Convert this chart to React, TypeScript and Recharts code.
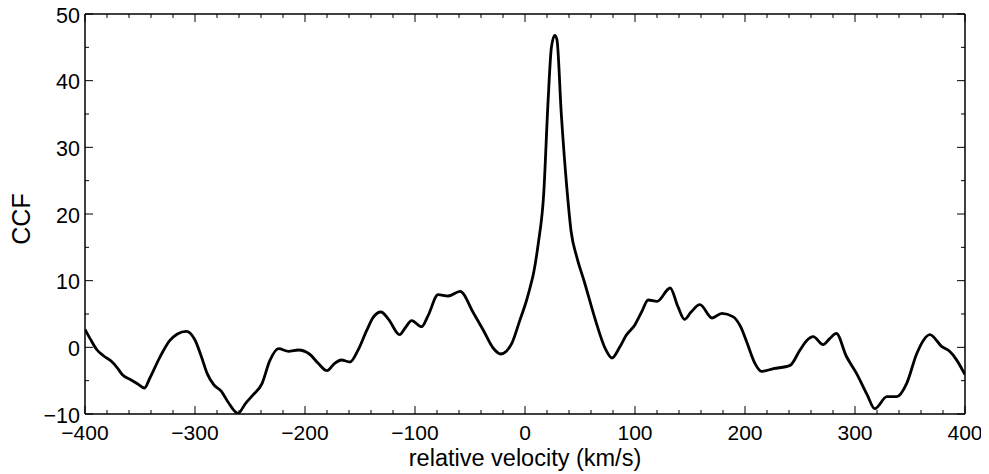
import { LineChart, Line, XAxis, YAxis } from 'recharts';

// velocity (km/s) and CCF
const velocity = [
  -400, -395, -389, -383, -376, -371, -366, -358, -352, -346, -341, -332, -323, -316, -308,
  -300, -294, -289, -283, -276, -270, -261, -254, -247, -239, -232, -224, -215, -206, -196,
  -188, -180, -173, -167, -159, -152, -144, -138, -131, -124, -114, -109, -103, -94, -88,
  -79, -70, -59, -47, -38, -29, -22, -12, -5, 1.5, 4.5, 8, 12, 17, 21, 24, 27, 29, 33, 38,
  42, 47, 54, 64, 73, 79, 86, 92, 100, 106, 112, 120, 132, 139, 145, 151, 159, 170, 179,
  189, 196, 202, 209, 215, 226, 241, 250, 256, 262, 271, 277, 283, 292, 301, 311, 318,
  329, 338, 347, 356, 362, 368, 379, 386, 392, 400,
];
const ccf = [
  2.7, 1.2, -0.4, -1.3, -2.1, -3.0, -4.1, -4.9, -5.5, -6.1, -4.6, -1.5, 1.0, 2.0, 2.4,
  1.1, -1.5, -3.9, -5.6, -6.6, -8.2, -9.9, -8.4, -7.1, -5.4, -2.0, -0.2, -0.6, -0.4, -1.0,
  -2.4, -3.5, -2.4, -1.9, -2.2, -0.5, 2.5, 4.5, 5.3, 4.2, 1.9, 2.9, 4.0, 3.1, 4.8,
  7.9, 7.7, 8.4, 5.2, 2.6, -0.1, -1.0, 0.6, 3.9, 7.1, 8.9, 11.3, 15.5, 23, 37, 45, 46.8, 46.2, 35, 24,
  17.3, 13.6, 9.8, 4.1, -0.2, -1.6, 0.0, 1.8, 3.4, 5.3, 7.1, 6.9, 8.9, 6.1, 4.2, 5.3, 6.4, 4.4, 5.1,
  4.6, 3.1, 0.6, -2.4, -3.6, -3.2, -2.7, -0.4, 1.0, 1.6, 0.4, 1.3, 2.1, -1.3, -3.8, -7.1, -9.2,
  -7.4, -7.4, -5.4, -1.0, 1.0, 1.9, 0.1, -0.6, -1.8, -4.1,
];

const xTicks = Array.from({ length: 41 }, (_, i) => -400 + i * 20);
const yTicks = Array.from({ length: 13 }, (_, i) => -10 + i * 5);

const data = velocity.map((v, i) => ({ v, ccf: ccf[i] }));

const font = '"Liberation Sans", Arial, Helvetica, sans-serif';
const fmt = (n: number) => String(n).replace('-', '\u2212');

const BottomTick = (props: any) => {
  const { x, y, payload } = props;
  const val = Math.round(payload.value);
  const major = val % 100 === 0;
  return (
    <g>
      <line x1={x} y1={y} x2={x} y2={y - (major ? 8 : 4)} stroke="#000" strokeWidth={1} />
      {major && (
        <text x={x} y={y + 26} textAnchor="middle" fontSize={21} fontFamily={font} fill="#000">
          {fmt(val)}
        </text>
      )}
    </g>
  );
};

const TopTick = (props: any) => {
  const { x, y, payload } = props;
  const major = Math.round(payload.value) % 100 === 0;
  return <line x1={x} y1={y} x2={x} y2={y + (major ? 8 : 4)} stroke="#000" strokeWidth={1} />;
};

const LeftTick = (props: any) => {
  const { x, y, payload } = props;
  const val = Math.round(payload.value);
  const major = val % 10 === 0;
  return (
    <g>
      <line x1={x} y1={y} x2={x + (major ? 8 : 4)} y2={y} stroke="#000" strokeWidth={1} />
      {major && (
        <text x={x - 5} y={y + 8.5} textAnchor="end" fontSize={21.5} fontFamily={font} fill="#000">
          {fmt(val)}
        </text>
      )}
    </g>
  );
};

const RightTick = (props: any) => {
  const { x, y, payload } = props;
  const major = Math.round(payload.value) % 10 === 0;
  return <line x1={x} y1={y} x2={x - (major ? 8 : 4)} y2={y} stroke="#000" strokeWidth={1} />;
};

const axisLine = { stroke: '#000', strokeWidth: 1.5 };

export default function App() {
  return (
    <LineChart width={981} height={466} data={data} margin={{ top: 5, right: 23, left: 0, bottom: 0 }}>
      <XAxis
        xAxisId="b"
        dataKey="v"
        type="number"
        domain={[-400, 400]}
        ticks={xTicks}
        interval={0}
        height={60}
        tickSize={0}
        tickMargin={0}
        tickLine={false}
        axisLine={axisLine}
        tick={<BottomTick />}
        allowDataOverflow
        label={{
          value: 'relative velocity (km/s)',
          position: 'insideBottom',
          offset: 8,
          fontSize: 23.5,
          fontFamily: font,
          fill: '#000',
        }}
      />
      <XAxis
        xAxisId="t"
        dataKey="v"
        type="number"
        orientation="top"
        domain={[-400, 400]}
        ticks={xTicks}
        interval={0}
        height={1}
        tickSize={0}
        tickMargin={0}
        tickLine={false}
        axisLine={axisLine}
        tick={<TopTick />}
        allowDataOverflow
      />
      <YAxis
        yAxisId="l"
        type="number"
        domain={[-10, 50]}
        ticks={yTicks}
        interval={0}
        width={77}
        tickSize={0}
        tickMargin={0}
        tickLine={false}
        axisLine={axisLine}
        tick={<LeftTick />}
        allowDataOverflow
        label={{
          content: ({ viewBox }: any) => {
            const cx = 13;
            const cy = viewBox.y + viewBox.height / 2 + 5;
            return (
              <text
                x={cx}
                y={cy}
                transform={`rotate(-90 ${cx} ${cy})`}
                textAnchor="middle"
                dominantBaseline="central"
                fontSize={25}
                fontFamily={font}
                fill="#000"
              >
                CCF
              </text>
            );
          },
        }}
      />
      <YAxis
        yAxisId="r"
        type="number"
        orientation="right"
        domain={[-10, 50]}
        ticks={yTicks}
        interval={0}
        width={1}
        tickSize={0}
        tickMargin={0}
        tickLine={false}
        axisLine={axisLine}
        tick={<RightTick />}
        allowDataOverflow
      />
      {/* invisible copy so the top/right frame axes get a scale */}
      <Line
        xAxisId="t"
        yAxisId="r"
        dataKey="ccf"
        type="monotone"
        stroke="none"
        dot={false}
        activeDot={false}
        isAnimationActive={false}
      />
      <Line
        xAxisId="b"
        yAxisId="l"
        dataKey="ccf"
        type="monotone"
        stroke="#000"
        strokeWidth={2.8}
        dot={false}
        activeDot={false}
        isAnimationActive={false}
      />
    </LineChart>
  );
}
